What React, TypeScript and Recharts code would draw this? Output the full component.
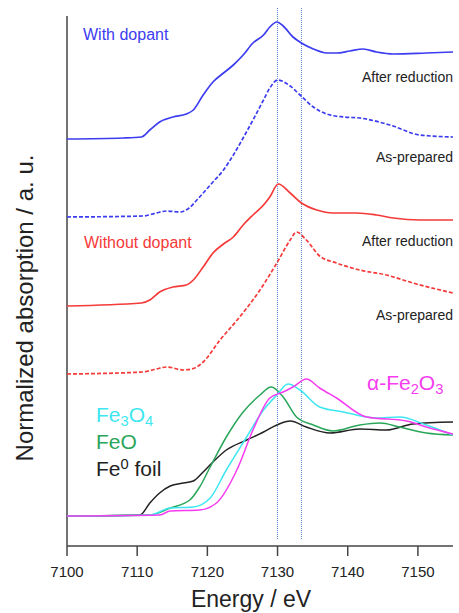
import { LineChart, Line, XAxis, YAxis, ReferenceLine } from 'recharts'

// energy (eV) vs normalized absorption with stacking offsets (a.u.)
const withDopantReduced = [
  [7100, 4.07], [7108, 4.08], [7110.6, 4.09], [7111.8, 4.16], [7113.2, 4.24], [7115.1, 4.29],
  [7117.0, 4.32], [7118.0, 4.36], [7119.4, 4.51], [7120.8, 4.64], [7122.3, 4.73], [7123.7, 4.81],
  [7125.1, 4.91], [7126.5, 5.03], [7128.0, 5.11], [7128.9, 5.19], [7129.9, 5.24], [7130.8, 5.2],
  [7132.2, 5.09], [7133.4, 5.03], [7135.1, 4.97], [7137.0, 4.93], [7138.4, 4.93], [7140.3, 4.95],
  [7142.2, 4.97], [7144.1, 4.94], [7146.5, 4.92], [7151.2, 4.93], [7155, 4.94],
]
const withDopantAsPrepared = [
  [7100, 3.29], [7110.8, 3.3], [7112.7, 3.33], [7114.2, 3.35], [7116.1, 3.34], [7117.4, 3.38],
  [7118.5, 3.46], [7120.8, 3.64], [7122.3, 3.76], [7123.7, 3.91], [7125.1, 4.08], [7126.5, 4.26],
  [7128.0, 4.46], [7128.9, 4.58], [7130.0, 4.66], [7131.8, 4.6], [7133.2, 4.51], [7135.1, 4.39],
  [7137.0, 4.32], [7139.4, 4.29], [7141.7, 4.28], [7146.0, 4.21], [7150.3, 4.11], [7155, 4.09],
]
const noDopantReduced = [
  [7100, 2.4], [7110.6, 2.43], [7111.8, 2.46], [7113.2, 2.54], [7115.1, 2.59], [7117.0, 2.61],
  [7118.0, 2.66], [7119.4, 2.79], [7120.8, 2.93], [7122.3, 3.02], [7123.7, 3.09], [7125.1, 3.21],
  [7126.5, 3.31], [7128.0, 3.41], [7128.9, 3.49], [7130.1, 3.62], [7131.8, 3.53], [7133.4, 3.43],
  [7135.6, 3.36], [7137.9, 3.33], [7141.3, 3.33], [7144.1, 3.31], [7146.5, 3.28], [7150.3, 3.26],
  [7155, 3.26],
]
const noDopantAsPrepared = [
  [7100, 1.72], [7110.8, 1.74], [7112.7, 1.77], [7114.2, 1.79], [7116.6, 1.76], [7118.2, 1.78],
  [7119.4, 1.84], [7121.8, 2.06], [7124.6, 2.29], [7127.5, 2.56], [7129.9, 2.83], [7131.8, 3.06],
  [7132.7, 3.14], [7134.1, 3.06], [7136.0, 2.9], [7138.4, 2.83], [7141.7, 2.76], [7145.5, 2.71],
  [7149.3, 2.63], [7155, 2.53],
]
const feFoil = [
  [7100, 0.3], [7110.4, 0.31], [7111.8, 0.43], [7113.2, 0.53], [7114.7, 0.6], [7116.6, 0.63],
  [7118.0, 0.65], [7119.4, 0.74], [7120.8, 0.84], [7122.7, 0.96], [7125.6, 1.06], [7128.0, 1.14],
  [7129.9, 1.21], [7131.8, 1.25], [7134.1, 1.19], [7137.5, 1.13], [7141.7, 1.17], [7145.5, 1.16],
  [7149.3, 1.22], [7155, 1.24],
]
const feO = [
  [7100, 0.3], [7111.8, 0.31], [7114.7, 0.38], [7117.5, 0.46], [7118.9, 0.59], [7120.4, 0.79],
  [7122.7, 1.09], [7125.1, 1.34], [7127.5, 1.51], [7129.1, 1.59], [7130.8, 1.49], [7132.7, 1.29],
  [7135.1, 1.21], [7137.9, 1.15], [7141.7, 1.21], [7144.6, 1.23], [7147.4, 1.19], [7151.2, 1.13],
  [7155, 1.11],
]
const fe3O4 = [
  [7100, 0.3], [7111.8, 0.31], [7114.7, 0.38], [7118.0, 0.39], [7120.4, 0.48], [7122.7, 0.76],
  [7125.6, 1.09], [7128.0, 1.36], [7129.9, 1.51], [7131.5, 1.62], [7133.2, 1.56], [7136.0, 1.39],
  [7139.4, 1.34], [7144.1, 1.28], [7147.4, 1.29], [7151.2, 1.21], [7155, 1.11],
]
const fe2O3 = [
  [7100, 0.3], [7113.2, 0.31], [7114.7, 0.35], [7118.9, 0.36], [7121.3, 0.43], [7124.2, 0.76],
  [7126.5, 1.16], [7128.9, 1.48], [7130.8, 1.54], [7132.2, 1.59], [7134.1, 1.67], [7136.0, 1.58],
  [7138.4, 1.48], [7142.7, 1.29], [7148.4, 1.25], [7151.2, 1.19], [7155, 1.12],
]

const xTicks = [7100, 7110, 7120, 7130, 7140, 7150]
const markerEnergies = [7130, 7133.4]

const toPoints = (s: number[][]) => s.map(([e, a]) => ({ e, a }))

const font = 'Liberation Sans, Arial, sans-serif'

function Note({ x, y, size, color, right, children }: any) {
  const style: any = {
    position: 'absolute',
    top: y,
    fontSize: size,
    lineHeight: 1,
    color,
    fontFamily: font,
    whiteSpace: 'nowrap',
  }
  if (right) style.right = 459 - x
  else style.left = x
  return <div style={style}>{children}</div>
}

const sub = { fontSize: '0.7em', verticalAlign: '-0.25em' }

export default function App() {
  return (
    <div style={{ position: 'absolute', left: 0, top: 0, width: 459, height: 613, background: '#fff' }}>
      <LineChart width={459} height={613} margin={{ top: 8, right: 6, bottom: 27, left: 67 }}>
        <XAxis
          type="number"
          dataKey="e"
          domain={[7100, 7155]}
          ticks={xTicks}
          allowDataOverflow
          height={40}
          tickSize={10}
          tickMargin={10}
          tick={{ fill: '#222', fontSize: 15, fontFamily: font }}
          axisLine={{ stroke: '#444', strokeWidth: 1.5 }}
          tickLine={{ stroke: '#444', strokeWidth: 1.5 }}
        />
        <YAxis type="number" domain={[0, 5.38]} hide allowDataOverflow />
        <ReferenceLine
          segment={[{ x: 7100, y: 0 }, { x: 7100, y: 5.3 }]}
          stroke="#444"
          strokeWidth={1.5}
          ifOverflow="visible"
        />
        {markerEnergies.map((m) => (
          <ReferenceLine
            key={m}
            segment={[{ x: m, y: 0.07 }, { x: m, y: 5.38 }]}
            stroke="#5a86d0"
            strokeDasharray="1 1"
            strokeWidth={1}
            ifOverflow="visible"
          />
        ))}
        <Line data={toPoints(feFoil)} dataKey="a" type="monotone" stroke="#222" strokeWidth={1.5} dot={false} isAnimationActive={false} />
        <Line data={toPoints(feO)} dataKey="a" type="monotone" stroke="#2aa65a" strokeWidth={1.5} dot={false} isAnimationActive={false} />
        <Line data={toPoints(fe3O4)} dataKey="a" type="monotone" stroke="#3ee6f2" strokeWidth={1.5} dot={false} isAnimationActive={false} />
        <Line data={toPoints(fe2O3)} dataKey="a" type="monotone" stroke="#f53cf0" strokeWidth={1.5} dot={false} isAnimationActive={false} />
        <Line data={toPoints(noDopantAsPrepared)} dataKey="a" type="monotone" stroke="#f53a3a" strokeWidth={1.7} strokeDasharray="4 2" dot={false} isAnimationActive={false} />
        <Line data={toPoints(noDopantReduced)} dataKey="a" type="monotone" stroke="#f53a3a" strokeWidth={1.7} dot={false} isAnimationActive={false} />
        <Line data={toPoints(withDopantAsPrepared)} dataKey="a" type="monotone" stroke="#3c3cf0" strokeWidth={1.7} strokeDasharray="4 2" dot={false} isAnimationActive={false} />
        <Line data={toPoints(withDopantReduced)} dataKey="a" type="monotone" stroke="#3c3cf0" strokeWidth={1.7} dot={false} isAnimationActive={false} />
      </LineChart>

      <Note x={83} y={27} size={16} color="#3c3cf0">With dopant</Note>
      <Note x={453} y={69.5} size={14} color="#222" right>After reduction</Note>
      <Note x={453} y={150} size={14} color="#222" right>As-prepared</Note>
      <Note x={84} y={235} size={16} color="#f53a3a">Without dopant</Note>
      <Note x={453} y={234} size={14} color="#222" right>After reduction</Note>
      <Note x={453} y={307.5} size={14} color="#222" right>As-prepared</Note>
      <Note x={367} y={372} size={21} color="#f53cf0">α-Fe<span style={sub}>2</span>O<span style={sub}>3</span></Note>
      <Note x={96} y={404} size={21} color="#3ee6f2">Fe<span style={sub}>3</span>O<span style={sub}>4</span></Note>
      <Note x={96} y={431} size={21} color="#2aa65a">FeO</Note>
      <Note x={96} y={456.5} size={21} color="#222">Fe<span style={{ fontSize: '0.7em', verticalAlign: '0.45em' }}>0</span> foil</Note>

      <div
        style={{
          position: 'absolute',
          left: 25,
          top: 308,
          transform: 'translate(-50%, -50%) rotate(-90deg)',
          fontSize: 24,
          lineHeight: 1,
          fontFamily: font,
          color: '#222',
          whiteSpace: 'nowrap',
        }}
      >
        Normalized absorption / a. u.
      </div>
      <div
        style={{
          position: 'absolute',
          left: 251,
          top: 588,
          transform: 'translateX(-50%)',
          fontSize: 23,
          lineHeight: 1,
          fontFamily: font,
          color: '#222',
          whiteSpace: 'nowrap',
        }}
      >
        Energy / eV
      </div>
    </div>
  )
}
